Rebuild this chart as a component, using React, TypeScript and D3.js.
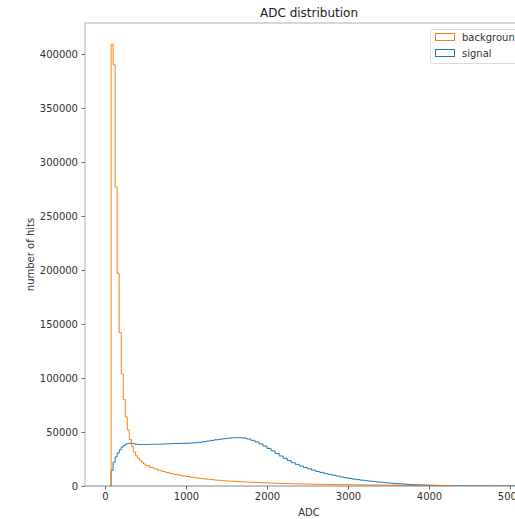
import React, { useEffect, useRef } from 'react';
import * as d3 from 'd3';

// bins 75..500, width 25
const fineStart = 75;
const fineWidth = 25;
const fineBackground = [409000, 390000, 277000, 197000, 142000, 104000, 80000, 64000, 52000, 43000, 36500, 31500, 28000, 25800, 23800, 22000, 20300];
const fineSignal = [14500, 22000, 27000, 30500, 33500, 36000, 37500, 38800, 39500, 39600, 39300, 39000, 38700, 38500, 38400, 38500, 38400];

// bins from 500, width 50
const coarseStart = 500;
const coarseWidth = 50;
const coarseBackground = [
  18800, 17300, 15900, 14600, 13400, 12400, 11500, 10700, 10000, 9300,
  8700, 8100, 7600, 7100, 6700, 6300, 5900, 5500, 5200, 4900,
  4600, 4400, 4200, 4000, 3800, 3600, 3400, 3250, 3100, 2950,
  2800, 2650, 2500, 2400, 2300, 2200, 2100, 2000, 1900, 1800,
  1700, 1650, 1550, 1500, 1450, 1400, 1350, 1300, 1250, 1200,
  1150, 1100, 1050, 1000, 960, 930, 900, 870, 840, 810,
  780, 750, 720, 690, 660, 630, 600, 580, 560, 540,
  520, 500, 480, 460, 440, 420, 400,
];
const coarseSignal = [
  38500, 38600, 38700, 38700, 38900, 39000, 39200, 39300, 39400, 39500,
  39600, 39800, 40100, 40500, 41000, 41600, 42200, 42800, 43300, 43800,
  44200, 44600, 44800, 44700, 44300, 43500, 42300, 40800, 39000, 37000,
  34800, 32500, 30100, 27800, 25600, 23500, 21600, 20000, 18500, 17200,
  15900, 14700, 13500, 12600, 11700, 10800, 10000, 9200, 8400, 7700,
  7000, 6400, 5900, 5400, 4900, 4500, 4100, 3700, 3400, 3000,
  2700, 2400, 2100, 1900, 1600, 1400, 1200, 1050, 950, 800,
  700, 600, 500, 420, 350, 300, 260, 230, 200, 180,
  160, 140, 120, 110, 100, 90, 80, 70, 60, 55,
  50, 45, 40, 35, 30,
];

const xTicks = [0, 1000, 2000, 3000, 4000, 5000];
const yTicks = [0, 50000, 100000, 150000, 200000, 250000, 300000, 350000, 400000];
const legendLabels = ['background', 'signal'];

const makeBins = (fine: number[], coarse: number[]) => {
  const bins: { x0: number; x1: number; v: number }[] = [];
  fine.forEach((v, i) => bins.push({ x0: fineStart + i * fineWidth, x1: fineStart + (i + 1) * fineWidth, v }));
  coarse.forEach((v, i) => bins.push({ x0: coarseStart + i * coarseWidth, x1: coarseStart + (i + 1) * coarseWidth, v }));
  return bins;
};

const App = () => {
  const svgRef = useRef<SVGSVGElement>(null);

  useEffect(() => {
    const width = 515;
    const height = 519;
    const margin = { top: 23, left: 85, bottom: 486, right: 533 };

    const svg = d3.select(svgRef.current).attr('width', width).attr('height', height);
    svg.selectAll('*').remove();

    const x = d3.scaleLinear().domain([-247, 5284]).range([margin.left, margin.right]);
    const y = d3.scaleLinear().domain([0, 428700]).range([margin.bottom, margin.top]);

    svg.append('defs').append('clipPath').attr('id', 'plotclip')
      .append('rect')
      .attr('x', margin.left).attr('y', margin.top)
      .attr('width', margin.right - margin.left).attr('height', margin.bottom - margin.top);

    const stepPoints = (bins: { x0: number; x1: number; v: number }[]) => {
      const pts: [number, number][] = [[bins[0].x0, 0]];
      bins.forEach((b) => {
        pts.push([b.x0, b.v]);
        pts.push([b.x1, b.v]);
      });
      pts.push([bins[bins.length - 1].x1, 0]);
      return pts;
    };

    const line = d3.line<[number, number]>()
      .x((d) => x(d[0]))
      .y((d) => y(d[1]));

    const plot = svg.append('g').attr('clip-path', 'url(#plotclip)');

    plot.append('path')
      .datum(stepPoints(makeBins(fineSignal, coarseSignal)))
      .attr('fill', 'none')
      .attr('stroke', '#1f77b4')
      .attr('stroke-width', 1)
      .attr('d', line);

    plot.append('path')
      .datum(stepPoints(makeBins(fineBackground, coarseBackground)))
      .attr('fill', 'none')
      .attr('stroke', '#ff7f0e')
      .attr('stroke-width', 1)
      .attr('d', line);

    // spines
    const spine = svg.append('g').attr('fill', 'none').attr('stroke', '#999').attr('stroke-width', 0.8);
    spine.append('line').attr('x1', margin.left).attr('x2', margin.left).attr('y1', margin.top).attr('y2', margin.bottom);
    spine.append('line').attr('x1', margin.left).attr('x2', margin.right).attr('y1', margin.top).attr('y2', margin.top);
    spine.append('line').attr('x1', margin.right).attr('x2', margin.right).attr('y1', margin.top).attr('y2', margin.bottom);
    spine.append('line').attr('x1', margin.left).attr('x2', margin.right).attr('y1', margin.bottom).attr('y2', margin.bottom).attr('stroke', '#666');

    const font = 'DejaVu Sans';

    // axes
    const xAxis = d3.axisBottom(x).tickValues(xTicks).tickSize(3.5).tickPadding(3.5).tickFormat(d3.format('d'));
    const yAxis = d3.axisLeft(y).tickValues(yTicks).tickSize(3.5).tickPadding(3.5).tickFormat(d3.format('d'));

    const gx = svg.append('g').attr('transform', `translate(0, ${margin.bottom})`).call(xAxis);
    const gy = svg.append('g').attr('transform', `translate(${margin.left}, 0)`).call(yAxis);
    [gx, gy].forEach((g) => {
      g.select('.domain').remove();
      g.selectAll('line').attr('stroke', '#444').attr('stroke-width', 0.8);
      g.selectAll('text').attr('fill', '#333').style('font-family', font).style('font-size', '10px');
    });

    svg.append('text')
      .attr('x', (margin.left + margin.right) / 2)
      .attr('y', 17)
      .attr('text-anchor', 'middle')
      .style('font-family', font).style('font-size', '12px').attr('fill', '#222')
      .text('ADC distribution');

    svg.append('text')
      .attr('x', (margin.left + margin.right) / 2)
      .attr('y', 516)
      .attr('text-anchor', 'middle')
      .style('font-family', font).style('font-size', '10px').attr('fill', '#333')
      .text('ADC');

    svg.append('text')
      .attr('transform', `translate(34, ${(margin.top + margin.bottom) / 2}) rotate(-90)`)
      .attr('text-anchor', 'middle')
      .style('font-family', font).style('font-size', '10px').attr('fill', '#333')
      .text('number of hits');

    // legend
    const legend = svg.append('g');
    legend.append('rect')
      .attr('x', 430.5).attr('y', 29.5).attr('width', 100).attr('height', 34).attr('rx', 2)
      .attr('fill', 'white').attr('fill-opacity', 0.8).attr('stroke', '#d0d0d0').attr('stroke-width', 0.8);
    const legendColors = ['#ff7f0e', '#1f77b4'];
    legendLabels.forEach((label, i) => {
      const yy = 33.5 + i * 16;
      legend.append('rect')
        .attr('x', 435.5).attr('y', yy).attr('width', 19).attr('height', 7)
        .attr('fill', 'none').attr('stroke', legendColors[i]).attr('stroke-width', 1);
      legend.append('text')
        .attr('x', 462).attr('y', yy + 7.5)
        .style('font-family', font).style('font-size', '10px').attr('fill', '#333')
        .text(label);
    });
  }, []);

  return <svg ref={svgRef} style={{ position: 'absolute', left: 0, top: 0 }}></svg>;
};

export default App;
